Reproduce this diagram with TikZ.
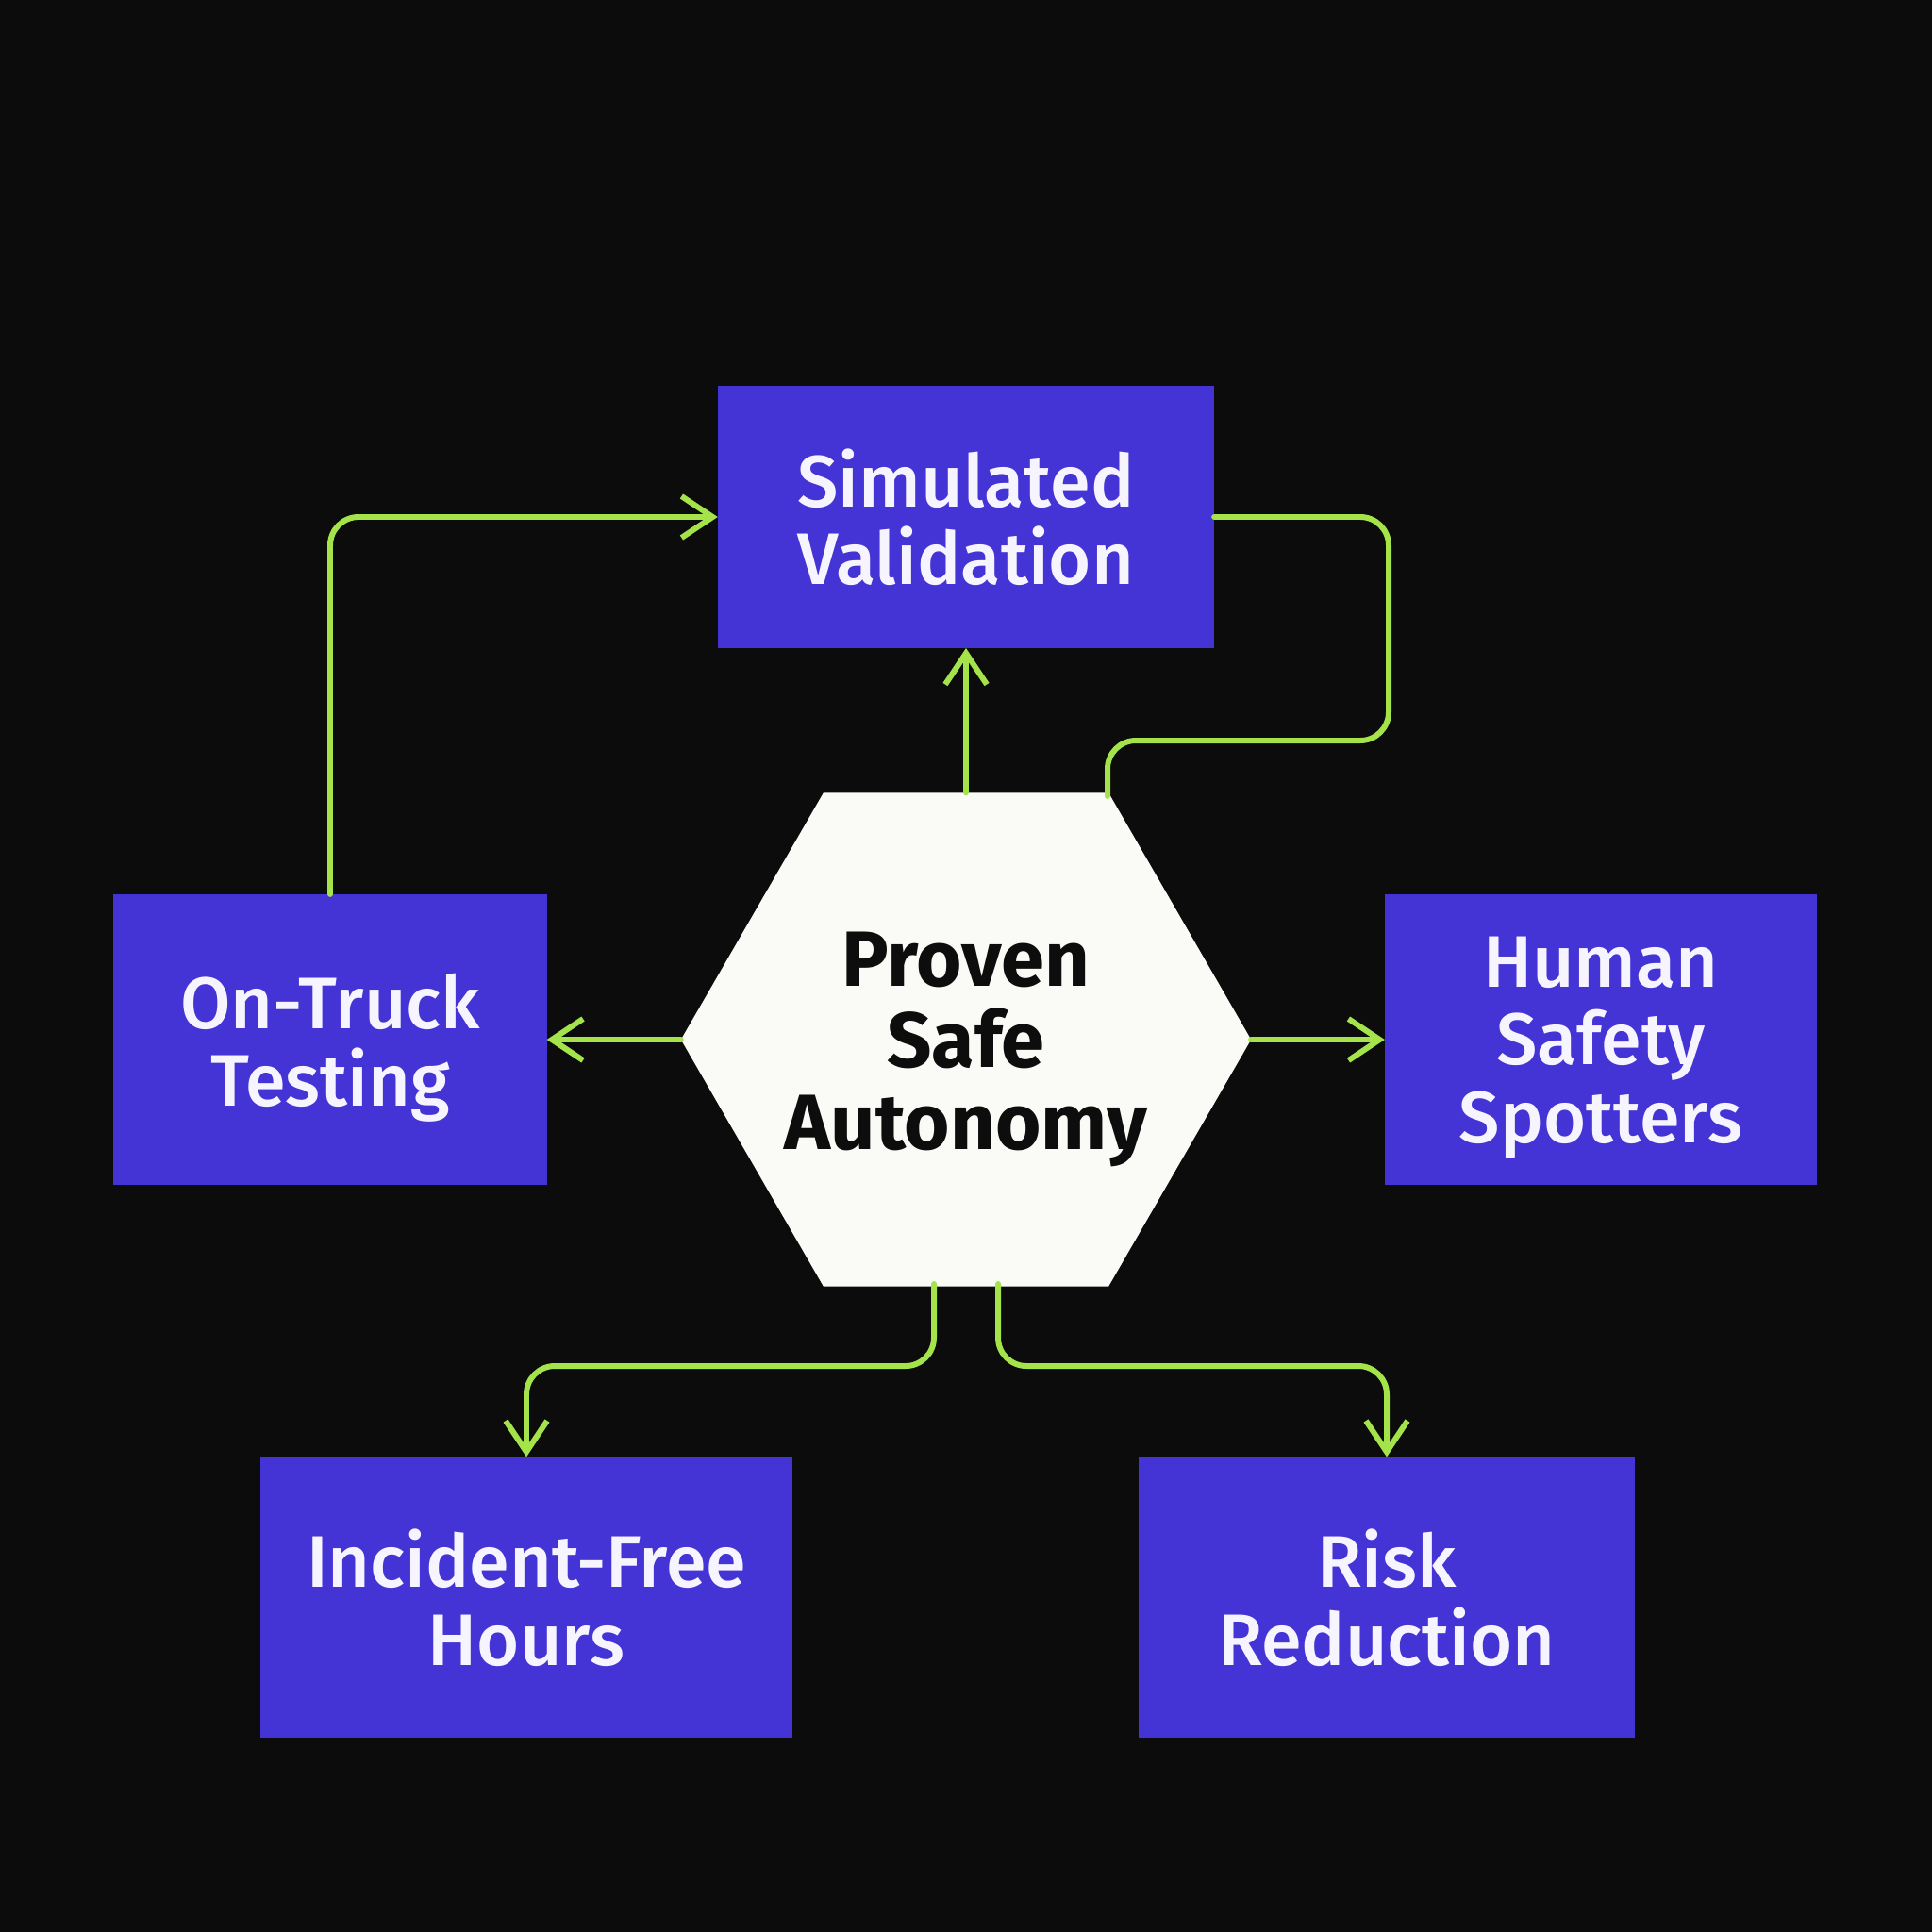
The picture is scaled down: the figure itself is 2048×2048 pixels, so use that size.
\documentclass[tikz,border=0pt]{standalone}
\usepackage{fontspec}
\setmainfont{Fira Sans}[UprightFont={* Medium}, BoldFont={* Bold}]
\usetikzlibrary{shapes.geometric,arrows.meta}
\definecolor{bgc}{HTML}{0C0C0C}
\definecolor{boxc}{HTML}{4534D5}
\definecolor{grn}{HTML}{A5E34B}
\definecolor{hexc}{HTML}{FAFAF7}
\definecolor{txtw}{HTML}{F6F5FF}
\definecolor{txtk}{HTML}{0D0D0D}
\tikzset{
  blockbox/.style={rectangle, fill=boxc, draw=none, inner sep=0pt, outer sep=0pt, align=center,
    text=txtw, text depth=0pt, font=\fontsize{22}{23.4}\selectfont},
  conn/.style={draw=grn, line width=1.7pt, rounded corners=0.3cm, line cap=round},
  arr/.style={conn, -{Straight Barb[length=3.3mm, width=4.4mm, line width=1.7pt]}},
}
\begin{document}
\begin{tikzpicture}[x=0.01cm, y=-0.01cm]
\fill[bgc] (0,0) rectangle (2048,2048);
\useasboundingbox (0,0) rectangle (2048,2048);

\node[blockbox, minimum width=5.26cm, minimum height=2.78cm] (sim) at (1024,548) {Simulated\\Validation};
\node[blockbox, minimum width=4.59cm, minimum height=3.08cm] (ot) at (350,1102) {On-Truck\\Testing};
\node[blockbox, minimum width=4.58cm, minimum height=3.08cm] (hs) at (1697,1102) {Human\\Safety\\Spotters};
\node[blockbox, minimum width=5.63cm, minimum height=2.97cm] (inc) at (558,1693) {Incident-Free\\Hours};
\node[blockbox, minimum width=5.26cm, minimum height=2.97cm] (risk) at (1470,1693) {Risk\\Reduction};

\node[regular polygon, regular polygon sides=6, minimum size=6.04cm, inner sep=0pt, outer sep=0pt,
      fill=hexc, draw=none] (hex) at (1024,1102) {};
\node[align=center, text=txtk, inner sep=0pt, text depth=0pt, font=\bfseries\fontsize{23.6}{24.6}\selectfont] (hext) at (1024,1103) {Proven\\Safe\\Autonomy};

\coordinate (hexTR) at (1174,844);
\coordinate (turnR) at (1472,785);
\coordinate (hbL) at (990,1361);
\coordinate (hbR) at (1058,1361);

\draw[arr] (hex.north) -- (sim.south);
\draw[arr] (ot.north) |- (sim.west);
\draw[conn] (sim.east) -| (turnR) -| (hexTR);
\draw[arr] (hex.west) -- (ot.east);
\draw[arr] (hex.east) -- (hs.west);
\draw[arr] (hbL) -- ++(0,87) -| (inc.north);
\draw[arr] (hbR) -- ++(0,87) -| (risk.north);
\end{tikzpicture}
\end{document}
